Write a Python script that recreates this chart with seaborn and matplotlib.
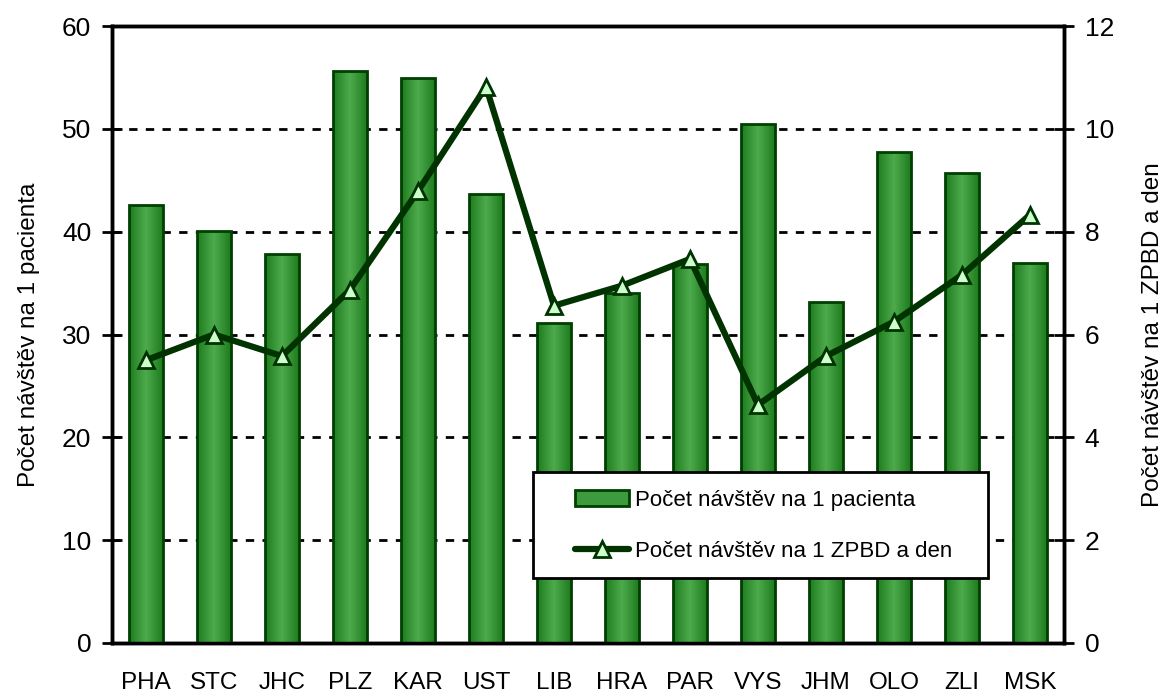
import numpy as np
import pandas as pd
import matplotlib
matplotlib.use('Agg')
import matplotlib.pyplot as plt
import seaborn as sns
from matplotlib.patches import Patch, Rectangle
from matplotlib.lines import Line2D
from matplotlib.ticker import FixedLocator, MultipleLocator

# Data
regions = ['PHA', 'STC', 'JHC', 'PLZ', 'KAR', 'UST', 'LIB', 'HRA', 'PAR', 'VYS', 'JHM', 'OLO', 'ZLI', 'MSK']
visits_per_patient = [42.6, 40.1, 37.8, 55.6, 54.9, 43.7, 31.1, 34.0, 36.9, 50.5, 33.2, 47.7, 45.7, 37.0]
visits_per_zpbd_day = [5.5, 6.0, 5.58, 6.87, 8.79, 10.82, 6.56, 6.95, 7.47, 4.63, 5.58, 6.25, 7.16, 8.33]

label_bar = 'Počet návštěv na 1 pacienta'
label_line = 'Počet návštěv na 1 ZPBD a den'

df = pd.DataFrame({'region': regions, 'bar': visits_per_patient, 'line': visits_per_zpbd_day})

sns.set_style('white')
plt.rcParams['font.family'] = ['Liberation Sans', 'DejaVu Sans']
plt.rcParams['text.color'] = 'black'
plt.rcParams['axes.labelcolor'] = 'black'
plt.rcParams['xtick.color'] = 'black'
plt.rcParams['ytick.color'] = 'black'

fig = plt.figure(figsize=(11.62, 6.99), dpi=100)
ax = fig.add_axes([112 / 1162, 1 - 643 / 699, 952 / 1162, 617 / 699])

edge = '#004000'
sns.barplot(data=df, x='region', y='bar', ax=ax, width=0.49, color='#3d9b3d',
            edgecolor=edge, linewidth=2, zorder=3)

# horizontal gradient fill inside each bar
grad = np.abs(np.linspace(-1, 1, 64))[None, :]
cmap = matplotlib.colors.LinearSegmentedColormap.from_list('g', ['#4caa4c', '#1e7b1e'])
for p in ax.patches:
    x0, y0 = p.get_x(), p.get_y()
    w, h = p.get_width(), p.get_height()
    im = ax.imshow(grad, cmap=cmap, aspect='auto', extent=(x0, x0 + w, y0, y0 + h),
                   zorder=3.5, interpolation='bilinear')
    im.set_clip_path(p)
    p.set_facecolor('none')
    p.set_zorder(4)

ax.set_xlim(-0.5, len(regions) - 0.5)
ax.set_ylim(0, 60)
ax.yaxis.set_major_locator(MultipleLocator(10))
ax.grid(False)
for v in range(10, 60, 10):
    ax.axhline(v, color='black', ls=(0, (3, 3)), lw=2, zorder=1)

ax.set_xlabel('')
ax.set_ylabel(label_bar, fontsize=17.5, labelpad=16)
ax.tick_params(axis='x', which='major', length=0, pad=21, labelsize=17.5)
ax.xaxis.set_minor_locator(FixedLocator(np.arange(-0.5, len(regions), 1.0)))
ax.tick_params(axis='x', which='minor', direction='out', length=8, width=2, color='black')
ax.tick_params(axis='y', direction='inout', length=14, width=2, color='black', labelsize=19, pad=8)
for s in ax.spines.values():
    s.set_color('black')
    s.set_linewidth(2.5)

ax2 = ax.twinx()
ax2.plot(range(len(regions)), visits_per_zpbd_day, color='#003300', lw=4.5,
         marker='^', markersize=11, markerfacecolor='#ccffcc', markeredgecolor='#003300',
         markeredgewidth=2, zorder=5)
ax2.set_ylim(0, 12)
ax2.yaxis.set_major_locator(MultipleLocator(2))
ax2.grid(False)
ax2.set_ylabel(label_line, fontsize=17.5, labelpad=20)
ax2.tick_params(axis='y', direction='inout', length=14, width=2, color='black', labelsize=19, pad=8)
for s in ax2.spines.values():
    s.set_color('black')
    s.set_linewidth(2.5)

# legend box drawn separately so the entries can sit inset like the original
ax2.add_patch(Rectangle((0.442, 0.105), 0.478, 0.172, transform=ax2.transAxes,
                        facecolor='white', edgecolor='black', linewidth=2, zorder=10))
handles = [Patch(facecolor='#3d9b3d', edgecolor=edge, linewidth=2),
           Line2D([], [], color='#003300', lw=4.5, marker='^', markersize=11,
                  markerfacecolor='#ccffcc', markeredgecolor='#003300', markeredgewidth=2)]
leg = ax2.legend(handles, [label_bar, label_line], loc='center left',
                 bbox_to_anchor=(0.486, 0.190), fontsize=16, frameon=False,
                 borderpad=0, labelspacing=1.35, handlelength=2.45,
                 handletextpad=0.27, borderaxespad=0)
leg.set_zorder(11)

fig.savefig('out.png', dpi=100)
